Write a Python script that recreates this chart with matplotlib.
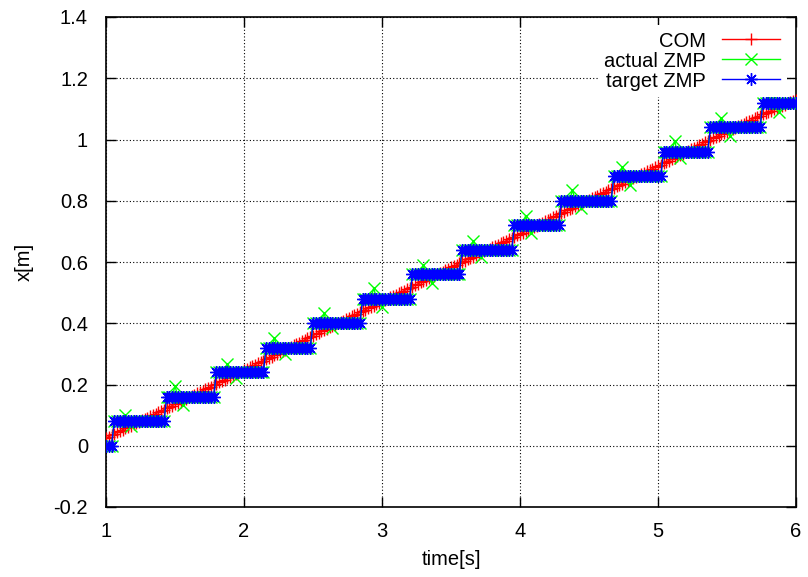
import numpy as np
import matplotlib
matplotlib.use("Agg")
import matplotlib.pyplot as plt
from matplotlib.lines import Line2D

# ---- data ----
step_starts = [1.0, 1.05, 1.43, 1.79, 2.15, 2.50, 2.86, 3.22, 3.58, 3.95, 4.30, 4.67, 5.03, 5.38, 5.75]
step_levels = [0.0, 0.08, 0.16, 0.24, 0.32, 0.40, 0.48, 0.56, 0.64, 0.72, 0.80, 0.88, 0.96, 1.04, 1.12]
# actual ZMP overshoot / undershoot peaks after each step change
zmp_over = [0.0, 0.101, 0.196, 0.268, 0.353, 0.434, 0.516, 0.590, 0.670, 0.750, 0.836, 0.911, 0.996, 1.071, 1.153]
zmp_under = [0.0, 0.065, 0.134, 0.222, 0.300, 0.385, 0.454, 0.532, 0.617, 0.695, 0.777, 0.852, 0.940, 1.012, 1.090]
# COM trajectory knots
com_t = [1.0, 1.05, 1.43, 1.79, 2.15, 2.50, 2.86, 3.22, 3.58, 3.95, 4.30, 4.67, 5.03, 5.38, 5.75, 6.0]
com_x = [0.025, 0.037, 0.12, 0.20, 0.28, 0.36, 0.44, 0.52, 0.60, 0.68, 0.76, 0.84, 0.92, 1.00, 1.08, 1.13]
x_ticks = [1, 2, 3, 4, 5, 6]
y_ticks = [-0.2, 0, 0.2, 0.4, 0.6, 0.8, 1.0, 1.2, 1.4]
y_tick_labels = ["-0.2", "0", "0.2", "0.4", "0.6", "0.8", "1", "1.2", "1.4"]

# ---- sampled series ----
t = np.round(np.arange(1.0, 6.0 + 1e-9, 0.02), 4)
idx = np.searchsorted(step_starts, t, side="right") - 1
target = np.array(step_levels)[idx]
com = np.interp(t, com_t, com_x)
actual = target.copy()
for k in range(1, len(step_starts)):
    ts = step_starts[k]
    i_over = np.argmin(np.abs(t - (ts + 0.08)))
    i_under = np.argmin(np.abs(t - (ts + 0.14)))
    actual[i_over] = zmp_over[k]
    actual[i_under] = zmp_under[k]

# ---- figure ----
plt.rcParams['font.family'] = ['Liberation Sans', 'DejaVu Sans']
fig = plt.figure(figsize=(8.08, 5.77), dpi=100)
ax = fig.add_axes([106/808, 70/577, 690/808, 490/577])

red = "#ff0000"
green = "#00ff00"
blue = "#0000ff"
ast = (8, 2, 0)
FS = 14.5

ax.plot(t, com, color=red, lw=1, marker="+", ms=8, mew=1, zorder=3)
ax.plot(t, actual, color=green, lw=1, marker="x", ms=8, mew=1, zorder=4)
ax.plot(t, target, color=blue, lw=1, marker=ast, ms=9, mew=1, zorder=5)

ax.set_xlim(1, 6)
ax.set_ylim(-0.2, 1.4)
ax.set_xticks(x_ticks)
ax.set_xticklabels([str(v) for v in x_ticks])
ax.set_yticks(y_ticks)
ax.set_yticklabels(y_tick_labels)
ax.tick_params(direction="in", length=7, width=1, top=True, right=True,
               labelsize=FS, colors="black")
ax.tick_params(axis="y", pad=13)
ax.tick_params(axis="x", pad=11)
ax.grid(True, color="black", linestyle=(0, (1, 2)), linewidth=0.8)
for s in ax.spines.values():
    s.set_linewidth(1.2)
ax.set_xlabel("time[s]", fontsize=FS, labelpad=6)
ax.set_ylabel("x[m]", fontsize=FS, labelpad=14)

handles = [
    Line2D([0, 1, 2], [0, 0, 0], color=red, lw=1, marker="+", ms=8, mew=1, markevery=[1]),
    Line2D([0, 1, 2], [0, 0, 0], color=green, lw=1, marker="x", ms=8, mew=1, markevery=[1]),
    Line2D([0, 1, 2], [0, 0, 0], color=blue, lw=1, marker=ast, ms=9, mew=1, markevery=[1]),
]
leg = ax.legend(handles, ["COM", "actual ZMP", "target ZMP"], loc="upper right",
                markerfirst=False, frameon=True, fancybox=False, framealpha=1,
                edgecolor="none", facecolor="white", fontsize=FS,
                handlelength=2.9, handletextpad=0.8, labelspacing=0.05,
                borderpad=0.3, borderaxespad=0.3, bbox_to_anchor=(0.995, 0.995))
leg.set_zorder(10)

fig.savefig("out.png", dpi=100)
